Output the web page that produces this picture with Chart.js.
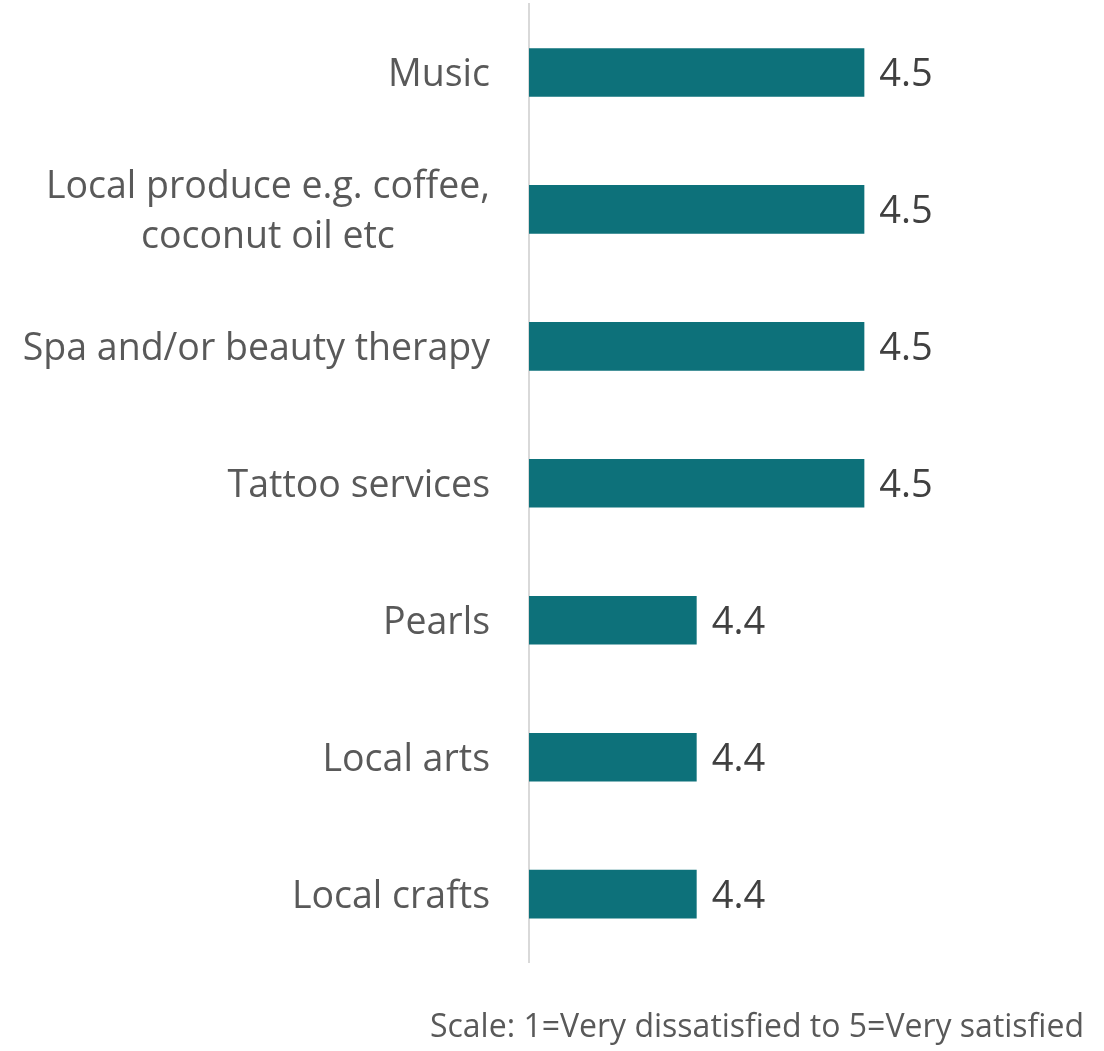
<!DOCTYPE html>
<html>
<head>
<meta charset="utf-8">
<script src="https://cdn.jsdelivr.net/npm/chart.js@4"></script>
<style>
    html, body { margin: 0; padding: 0; background: #ffffff; }
    #wrap { width: 1104px; height: 1051px; }
</style>
</head>
<body>
<div id="wrap"><canvas id="chart"></canvas></div>
<script>
const categories = [
    'Music',
    ['Local produce e.g. coffee,', 'coconut oil etc'],
    'Spa and/or beauty therapy',
    'Tattoo services',
    'Pearls',
    'Local arts',
    'Local crafts'
];
const scores = [4.5, 4.5, 4.5, 4.5, 4.4, 4.4, 4.4];
const footnote = 'Scale: 1=Very dissatisfied to 5=Very satisfied';

const fontFamily = "'Open Sans', 'Liberation Sans', sans-serif";
const labelSize = 37.5;
const valueSize = 38;

// Category labels, multi-line ones centred on their longest line
const categoryLabels = {
    id: 'categoryLabels',
    afterDraw(chart) {
        const ctx = chart.ctx;
        const yScale = chart.scales.y;
        const right = yScale.right - 39;
        ctx.save();
        ctx.font = `${labelSize}px ${fontFamily}`;
        ctx.fillStyle = '#595959';
        ctx.textBaseline = 'middle';
        categories.forEach((label, i) => {
            const y = yScale.getPixelForTick(i) + 3;
            const lines = Array.isArray(label) ? label : [label];
            const widest = Math.max(...lines.map(l => ctx.measureText(l).width));
            const centre = right - widest / 2;
            const lineHeight = 50;
            lines.forEach((line, j) => {
                const ly = y + (j - (lines.length - 1) / 2) * lineHeight;
                ctx.textAlign = 'center';
                ctx.fillText(line, centre, ly);
            });
        });
        ctx.restore();
    }
};

// Value labels at the end of each bar
const valueLabels = {
    id: 'valueLabels',
    afterDatasetsDraw(chart) {
        const ctx = chart.ctx;
        const meta = chart.getDatasetMeta(0);
        ctx.save();
        ctx.font = `${valueSize}px ${fontFamily}`;
        ctx.fillStyle = '#404040';
        ctx.textAlign = 'left';
        ctx.textBaseline = 'middle';
        meta.data.forEach((bar, i) => {
            ctx.fillText(scores[i].toFixed(1), bar.x + 15, bar.y + 3);
        });
        ctx.restore();
    }
};

new Chart(document.getElementById('chart'), {
    type: 'bar',
    data: {
        labels: categories,
        datasets: [{
            data: scores,
            backgroundColor: '#0d717a',
            borderWidth: 0,
            categoryPercentage: 1,
            barPercentage: 0.355
        }]
    },
    options: {
        indexAxis: 'y',
        responsive: true,
        maintainAspectRatio: false,
        animation: false,
        layout: {
            padding: { top: 4, right: 20, left: 0, bottom: 0 }
        },
        scales: {
            x: {
                display: false,
                min: 4.3,
                max: 4.631
            },
            y: {
                ticks: { display: false },
                grid: { display: false, drawTicks: false },
                border: { display: true, color: '#d9d9d9', width: 2 },
                afterFit(scale) {
                    scale.width = 529;
                }
            }
        },
        plugins: {
            legend: { display: false },
            tooltip: { enabled: false },
            title: {
                display: true,
                text: footnote,
                position: 'bottom',
                align: 'end',
                color: '#595959',
                font: { family: fontFamily, size: 32, weight: 'normal', lineHeight: 1.2 },
                padding: { top: 46, bottom: 4 }
            }
        }
    },
    plugins: [categoryLabels, valueLabels]
});
</script>
</body>
</html>
